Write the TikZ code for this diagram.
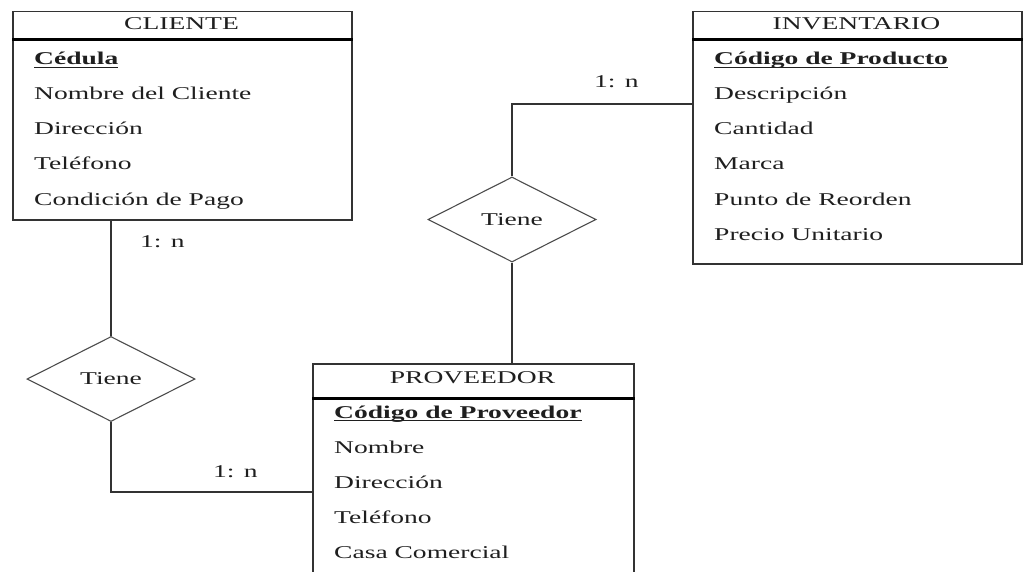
\documentclass[tikz,border=0pt]{standalone}
\usepackage{fontspec}
\setmainfont{Liberation Serif}[FakeStretch=1.53]
\usetikzlibrary{shapes.geometric,calc}
\newcommand\keyul[1]{\setbox0\hbox{\textbf{#1}}\rlap{\rule[-3.2pt]{\wd0}{0.9pt}}\box0}
\begin{document}
\begin{tikzpicture}[x=1pt,y=-1pt,
  every node/.style={font=\fontsize{18}{20}\selectfont, text=black!88},
  entity/.style={draw=black!80, line width=1.5pt, rectangle, inner sep=0pt, anchor=north west},
  hdr/.style={draw=black, line width=3pt},
  title/.style={anchor=base, inner sep=0pt},
  attr/.style={anchor=base west, inner sep=0pt},
  rel/.style={draw=black!70, line width=1.1pt, diamond, inner sep=0pt, minimum width=168pt, minimum height=85pt},
  conn/.style={draw=black!80, line width=1.4pt},
  card/.style={anchor=base west, inner sep=0pt}]
\useasboundingbox (0,0) rectangle (1024,572);
\clip (0,0) rectangle (1024,572);

% entity CLIENTE
\node[entity, minimum width=339pt, minimum height=208pt] (cliente) at (12,11) {};
\draw[hdr] ($(cliente.north west)+(0,29)$) -- ($(cliente.north east)+(0,29)$);
\node[title] (clienteT) at (181.5,30) {CLIENTE};
\node[attr] (c1a) at (34,65) {\keyul{Cédula}};
\node[attr] (c2a) at (34,100) {Nombre del Cliente};
\node[attr] (c3a) at (34,135) {Dirección};
\node[attr] (c4a) at (34,170) {Teléfono};
\node[attr] (c5a) at (34,205) {Condición de Pago};

% entity INVENTARIO
\node[entity, minimum width=329pt, minimum height=252pt] (inventario) at (692,11) {};
\draw[hdr] ($(inventario.north west)+(0,29)$) -- ($(inventario.north east)+(0,29)$);
\node[title] (inventarioT) at (856.5,30) {INVENTARIO};
\node[attr] (i1a) at (714,65) {\keyul{Código de Producto}};
\node[attr] (i2a) at (714,100) {Descripción};
\node[attr] (i3a) at (714,135) {Cantidad};
\node[attr] (i4a) at (714,170) {Marca};
\node[attr] (i5a) at (714,205) {Punto de Reorden};
\node[attr] (i6a) at (714,240) {Precio Unitario};

% entity PROVEEDOR
\node[entity, minimum width=321pt, minimum height=230pt] (proveedor) at (312,363) {};
\draw[hdr] ($(proveedor.north west)+(0,35)$) -- ($(proveedor.north east)+(0,35)$);
\node[title] (proveedorT) at (472.5,383) {PROVEEDOR};
\node[attr] (p1a) at (334,418) {\keyul{Código de Proveedor}};
\node[attr] (p2a) at (334,453) {Nombre};
\node[attr] (p3a) at (334,488) {Dirección};
\node[attr] (p4a) at (334,523) {Teléfono};
\node[attr] (p5a) at (334,558) {Casa Comercial};

% relationships
\node[rel] (tiene1) at (111,379) {Tiene};
\node[rel] (tiene2) at (512,219.5) {Tiene};

\coordinate (provIn) at (312,492);
\coordinate (invIn) at (692,104);

\draw[conn] (tiene1.north) -- (tiene1.north |- cliente.south);
\draw[conn] (tiene1.south) |- (provIn);
\draw[conn] (tiene2.north) |- (invIn);
\draw[conn] (tiene2.south) -- (tiene2.south |- proveedor.north);

% cardinalities
\node[card] (card1) at (140,247) {1: n};
\node[card] (card2) at (213,477) {1: n};
\node[card] (card3) at (594,88) {1: n};
\end{tikzpicture}
\end{document}
